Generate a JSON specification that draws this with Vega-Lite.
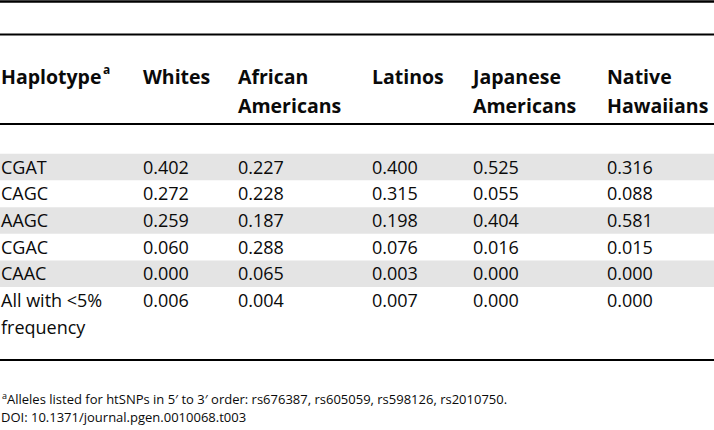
{
  "$schema": "https://vega.github.io/schema/vega-lite/v6.json",
  "width": 714,
  "height": 430,
  "autosize": {"type": "none"},
  "padding": 0,
  "background": "white",
  "config": {"view": {"stroke": null}, "text": {"font": "Open Sans", "color": "#0a0a0a"}},
  "datasets": {
    "rows": [
      {"row": 0, "Haplotype": "CGAT", "Whites": "0.402", "African Americans": "0.227", "Latinos": "0.400", "Japanese Americans": "0.525", "Native Hawaiians": "0.316"},
      {"row": 1, "Haplotype": "CAGC", "Whites": "0.272", "African Americans": "0.228", "Latinos": "0.315", "Japanese Americans": "0.055", "Native Hawaiians": "0.088"},
      {"row": 2, "Haplotype": "AAGC", "Whites": "0.259", "African Americans": "0.187", "Latinos": "0.198", "Japanese Americans": "0.404", "Native Hawaiians": "0.581"},
      {"row": 3, "Haplotype": "CGAC", "Whites": "0.060", "African Americans": "0.288", "Latinos": "0.076", "Japanese Americans": "0.016", "Native Hawaiians": "0.015"},
      {"row": 4, "Haplotype": "CAAC", "Whites": "0.000", "African Americans": "0.065", "Latinos": "0.003", "Japanese Americans": "0.000", "Native Hawaiians": "0.000"},
      {"row": 5, "Haplotype": "All with <5%\nfrequency", "Whites": "0.006", "African Americans": "0.004", "Latinos": "0.007", "Japanese Americans": "0.000", "Native Hawaiians": "0.000"}
    ],
    "columns": [
      {"key": "Haplotype", "col": 0, "header": "Haplotype"},
      {"key": "Whites", "col": 1, "header": "Whites"},
      {"key": "African Americans", "col": 2, "header": "African\nAmericans"},
      {"key": "Latinos", "col": 3, "header": "Latinos"},
      {"key": "Japanese Americans", "col": 4, "header": "Japanese\nAmericans"},
      {"key": "Native Hawaiians", "col": 5, "header": "Native\nHawaiians"}
    ]
  },
  "layer": [
    {
      "data": {"name": "rows"},
      "transform": [{"filter": {"field": "row", "oneOf": [0, 2, 4]}}],
      "mark": {"type": "rule", "strokeWidth": 26.5, "color": "#e4e4e4", "strokeCap": "butt"},
      "encoding": {
        "y": {"field": "row", "type": "quantitative", "axis": null,
              "scale": {"domain": [-2.5, -1.5, -1, -0.5, 0, 5, 6.5, 7, 8], "range": [1.5, 34.5, 77, 124, 167, 300.5, 360, 399, 417], "zero": false, "nice": false}}
      }
    },
    {
      "data": {"values": [{"edge": "top"}]},
      "mark": {"type": "rule", "strokeWidth": 2.5, "color": "#000000"},
      "encoding": {
        "y": {"datum": -2.5, "type": "quantitative", "axis": null,
              "scale": {"domain": [-2.5, -1.5, -1, -0.5, 0, 5, 6.5, 7, 8], "range": [1.5, 34.5, 77, 124, 167, 300.5, 360, 399, 417], "zero": false, "nice": false}}
      }
    },
    {
      "data": {"values": [{"edge": "title"}]},
      "mark": {"type": "rule", "strokeWidth": 2, "color": "#000000"},
      "encoding": {
        "y": {"datum": -1.5, "type": "quantitative", "axis": null,
              "scale": {"domain": [-2.5, -1.5, -1, -0.5, 0, 5, 6.5, 7, 8], "range": [1.5, 34.5, 77, 124, 167, 300.5, 360, 399, 417], "zero": false, "nice": false}}
      }
    },
    {
      "data": {"values": [{"edge": "header"}]},
      "mark": {"type": "rule", "strokeWidth": 2, "color": "#000000"},
      "encoding": {
        "y": {"datum": -0.5, "type": "quantitative", "axis": null,
              "scale": {"domain": [-2.5, -1.5, -1, -0.5, 0, 5, 6.5, 7, 8], "range": [1.5, 34.5, 77, 124, 167, 300.5, 360, 399, 417], "zero": false, "nice": false}}
      }
    },
    {
      "data": {"values": [{"edge": "bottom"}]},
      "mark": {"type": "rule", "strokeWidth": 2, "color": "#000000"},
      "encoding": {
        "y": {"datum": 6.5, "type": "quantitative", "axis": null,
              "scale": {"domain": [-2.5, -1.5, -1, -0.5, 0, 5, 6.5, 7, 8], "range": [1.5, 34.5, 77, 124, 167, 300.5, 360, 399, 417], "zero": false, "nice": false}}
      }
    },
    {
      "data": {"name": "columns"},
      "mark": {"type": "text", "align": "left", "baseline": "alphabetic", "dy": 7, "fontSize": 19.5, "fontWeight": "bold", "lineBreak": "\n", "lineHeight": 29},
      "encoding": {
        "x": {"field": "col", "type": "quantitative", "axis": null,
              "scale": {"domain": [0, 1, 2, 3, 4, 5], "range": [1, 143, 238, 372, 473, 607], "zero": false, "nice": false}},
        "y": {"datum": -1, "type": "quantitative", "axis": null,
              "scale": {"domain": [-2.5, -1.5, -1, -0.5, 0, 5, 6.5, 7, 8], "range": [1.5, 34.5, 77, 124, 167, 300.5, 360, 399, 417], "zero": false, "nice": false}},
        "text": {"field": "header", "type": "nominal"}
      }
    },
    {
      "data": {"values": [{"sup": "a"}]},
      "mark": {"type": "text", "align": "left", "baseline": "alphabetic", "dx": 102, "dy": -3, "fontSize": 12, "fontWeight": "bold"},
      "encoding": {
        "x": {"datum": 0, "type": "quantitative", "axis": null,
              "scale": {"domain": [0, 1, 2, 3, 4, 5], "range": [1, 143, 238, 372, 473, 607], "zero": false, "nice": false}},
        "y": {"datum": -1, "type": "quantitative", "axis": null,
              "scale": {"domain": [-2.5, -1.5, -1, -0.5, 0, 5, 6.5, 7, 8], "range": [1.5, 34.5, 77, 124, 167, 300.5, 360, 399, 417], "zero": false, "nice": false}},
        "text": {"field": "sup", "type": "nominal"}
      }
    },
    {
      "data": {"name": "rows"},
      "transform": [
        {"fold": ["Haplotype", "Whites", "African Americans", "Latinos", "Japanese Americans", "Native Hawaiians"], "as": ["key", "value"]},
        {"lookup": "key", "from": {"data": {"name": "columns"}, "key": "key", "fields": ["col"]}}
      ],
      "mark": {"type": "text", "align": "left", "baseline": "alphabetic", "dy": 6.5, "fontSize": 18, "lineBreak": "\n", "lineHeight": 26.5},
      "encoding": {
        "x": {"field": "col", "type": "quantitative", "axis": null,
              "scale": {"domain": [0, 1, 2, 3, 4, 5], "range": [1, 143, 238, 372, 473, 607], "zero": false, "nice": false}},
        "y": {"field": "row", "type": "quantitative", "axis": null,
              "scale": {"domain": [-2.5, -1.5, -1, -0.5, 0, 5, 6.5, 7, 8], "range": [1.5, 34.5, 77, 124, 167, 300.5, 360, 399, 417], "zero": false, "nice": false}},
        "text": {"field": "value", "type": "nominal"}
      }
    },
    {
      "data": {"values": [{"sup": "a"}]},
      "mark": {"type": "text", "align": "left", "baseline": "alphabetic", "dx": 1, "dy": 0, "fontSize": 9},
      "encoding": {
        "x": {"datum": 0, "type": "quantitative", "axis": null,
              "scale": {"domain": [0, 1, 2, 3, 4, 5], "range": [1, 143, 238, 372, 473, 607], "zero": false, "nice": false}},
        "y": {"datum": 7, "type": "quantitative", "axis": null,
              "scale": {"domain": [-2.5, -1.5, -1, -0.5, 0, 5, 6.5, 7, 8], "range": [1.5, 34.5, 77, 124, 167, 300.5, 360, 399, 417], "zero": false, "nice": false}},
        "text": {"field": "sup", "type": "nominal"}
      }
    },
    {
      "data": {"values": [{"note": "Alleles listed for htSNPs in 5′ to 3′ order: rs676387, rs605059, rs598126, rs2010750."}]},
      "mark": {"type": "text", "align": "left", "baseline": "alphabetic", "dx": 6, "dy": 5, "fontSize": 13},
      "encoding": {
        "x": {"datum": 0, "type": "quantitative", "axis": null,
              "scale": {"domain": [0, 1, 2, 3, 4, 5], "range": [1, 143, 238, 372, 473, 607], "zero": false, "nice": false}},
        "y": {"datum": 7, "type": "quantitative", "axis": null,
              "scale": {"domain": [-2.5, -1.5, -1, -0.5, 0, 5, 6.5, 7, 8], "range": [1.5, 34.5, 77, 124, 167, 300.5, 360, 399, 417], "zero": false, "nice": false}},
        "text": {"field": "note", "type": "nominal"}
      }
    },
    {
      "data": {"values": [{"note": "DOI: 10.1371/journal.pgen.0010068.t003"}]},
      "mark": {"type": "text", "align": "left", "baseline": "alphabetic", "dy": 5, "fontSize": 13},
      "encoding": {
        "x": {"datum": 0, "type": "quantitative", "axis": null,
              "scale": {"domain": [0, 1, 2, 3, 4, 5], "range": [1, 143, 238, 372, 473, 607], "zero": false, "nice": false}},
        "y": {"datum": 8, "type": "quantitative", "axis": null,
              "scale": {"domain": [-2.5, -1.5, -1, -0.5, 0, 5, 6.5, 7, 8], "range": [1.5, 34.5, 77, 124, 167, 300.5, 360, 399, 417], "zero": false, "nice": false}},
        "text": {"field": "note", "type": "nominal"}
      }
    }
  ]
}
